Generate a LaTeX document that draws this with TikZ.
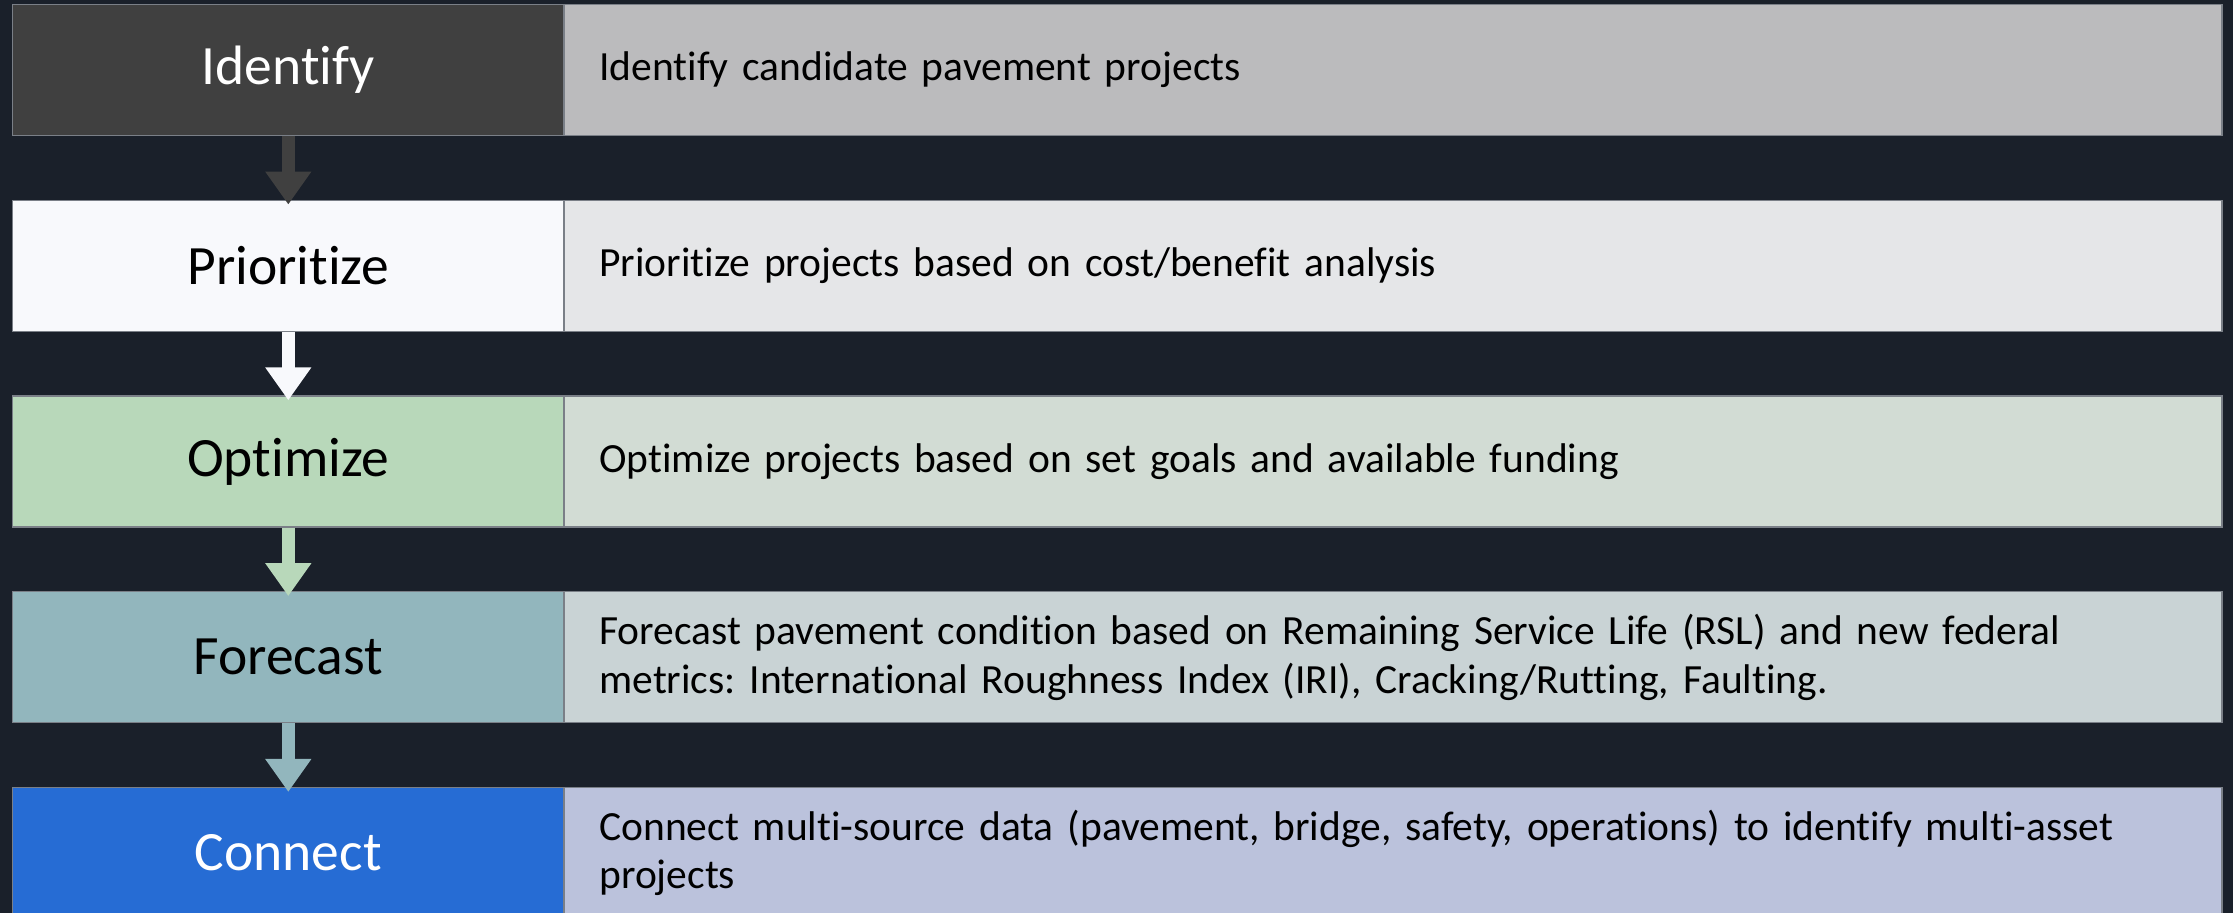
\documentclass[tikz,border=0pt]{standalone}
\usepackage{fontspec}
\setmainfont{Carlito}[Ligatures=NoCommon]
\usetikzlibrary{arrows.meta}
\definecolor{bg}{HTML}{1A202A}
\definecolor{edge}{HTML}{7A7F87}
\definecolor{lA}{HTML}{404040}\definecolor{rA}{HTML}{BBBBBD}
\definecolor{lB}{HTML}{F8F9FC}\definecolor{rB}{HTML}{E5E6E8}
\definecolor{lC}{HTML}{B8D8BA}\definecolor{rC}{HTML}{D2DCD4}
\definecolor{lD}{HTML}{92B6BD}\definecolor{rD}{HTML}{C9D3D5}
\definecolor{lE}{HTML}{266CD4}\definecolor{rE}{HTML}{BBC2DC}
\tikzset{
  leftbox/.style={draw=edge, line width=1.2pt, minimum width=551pt, minimum height=131pt,
    inner sep=0pt, font=\fontsize{55.5}{66}\selectfont},
  rightbox/.style={draw=edge, line width=1.2pt, minimum height=131pt, inner xsep=35.5pt,
    inner ysep=0pt, text width=1587pt, align=left, text=black,
    font=\frenchspacing\fontsize{41.5}{48.4}\selectfont},
  flowarrow/.style={line width=12.7pt, -{Triangle[width=44pt,length=33pt]}, shorten >=-5pt}
}
\begin{document}
\begin{tikzpicture}[x=1pt,y=-1pt]
\useasboundingbox (0,0) rectangle (2233,913);
\fill[bg] (0,0) rectangle (2233,913);
\begin{scope}
\clip (0,0) rectangle (2233,913);
% rows
\node[leftbox, fill=lA, text=white] (l1) at (288.3,69.8) {Identify};
\node[rightbox, fill=rA, anchor=west] (r1) at (563.3,69.8) {Identify candidate pavement projects};
\node[leftbox, fill=lB, text=black] (l2) at (288.3,265.6) {Prioritize};
\node[rightbox, fill=rB, anchor=west] (r2) at (563.3,265.6) {Prioritize projects based on cost/benefit analysis};
\node[leftbox, fill=lC, text=black] (l3) at (288.3,461.4) {Optimize};
\node[rightbox, fill=rC, anchor=west] (r3) at (563.3,461.4) {Optimize projects based on set goals and available funding};
\node[leftbox, fill=lD, text=black] (l4) at (288.3,657.2) {Forecast};
\node[rightbox, fill=rD, anchor=west] (r4) at (563.3,657.2) {Forecast pavement condition based on Remaining Service Life (RSL) and new federal\\metrics: International Roughness Index (IRI), Cracking/Rutting, Faulting.};
\node[leftbox, fill=lE, text=white] (l5) at (288.3,853.0) {Connect};
\node[rightbox, fill=rE, anchor=west] (r5) at (563.3,853.0) {Connect multi-source data (pavement, bridge, safety, operations) to identify multi-asset\\projects};
% arrows
\draw[flowarrow, lA] (l1.south) -- (l2.north);
\draw[flowarrow, lB] (l2.south) -- (l3.north);
\draw[flowarrow, lC] (l3.south) -- (l4.north);
\draw[flowarrow, lD] (l4.south) -- (l5.north);
\end{scope}
\end{tikzpicture}
\end{document}
